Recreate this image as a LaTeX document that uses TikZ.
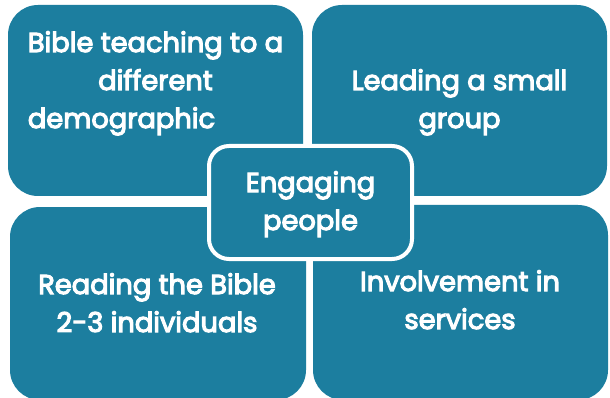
\documentclass[tikz,border=0pt]{standalone}
\usepackage{fontspec}
\setmainfont{Poppins}
\newfontfamily\lblfont{Poppins}[FakeBold=4]
\definecolor{teal1}{HTML}{1C7E9F}
\begin{document}
\begin{tikzpicture}[x=1pt,y=-1pt,
  panel/.style={fill=teal1, draw=none, rounded corners=30pt, inner sep=0pt},
  hub/.style={fill=teal1, draw=white, line width=4pt, rounded corners=20pt, inner sep=0pt},
  lbl/.style={text=white, font=\lblfont\fontsize{27.3}{38}\selectfont, align=center, anchor=base, inner sep=0pt}]
\useasboundingbox[fill=white] (0,0) rectangle (610,398);
\path[panel] (8,5) rectangle (303,196);
\path[panel] (312,5) rectangle (607,196);
\path[panel] (10,207) rectangle (306,400);
\path[panel] (313,205) rectangle (608,400);
\path[hub] (209,146) rectangle (412,259);
\node[lbl] (tl) at (155.5,128) {Bible teaching to a\\different\\demographic\phantom{\hspace{68pt}}};
\node[lbl] (tr) at (459.5,128) {Leading a small\\group};
\node[lbl] (bl) at (157,332) {Reading the Bible\\2-3 individuals};
\node[lbl] (br) at (460,329) {Involvement in\\services};
\node[lbl] (c) at (310.5,230) {Engaging\\people};
\end{tikzpicture}
\end{document}
